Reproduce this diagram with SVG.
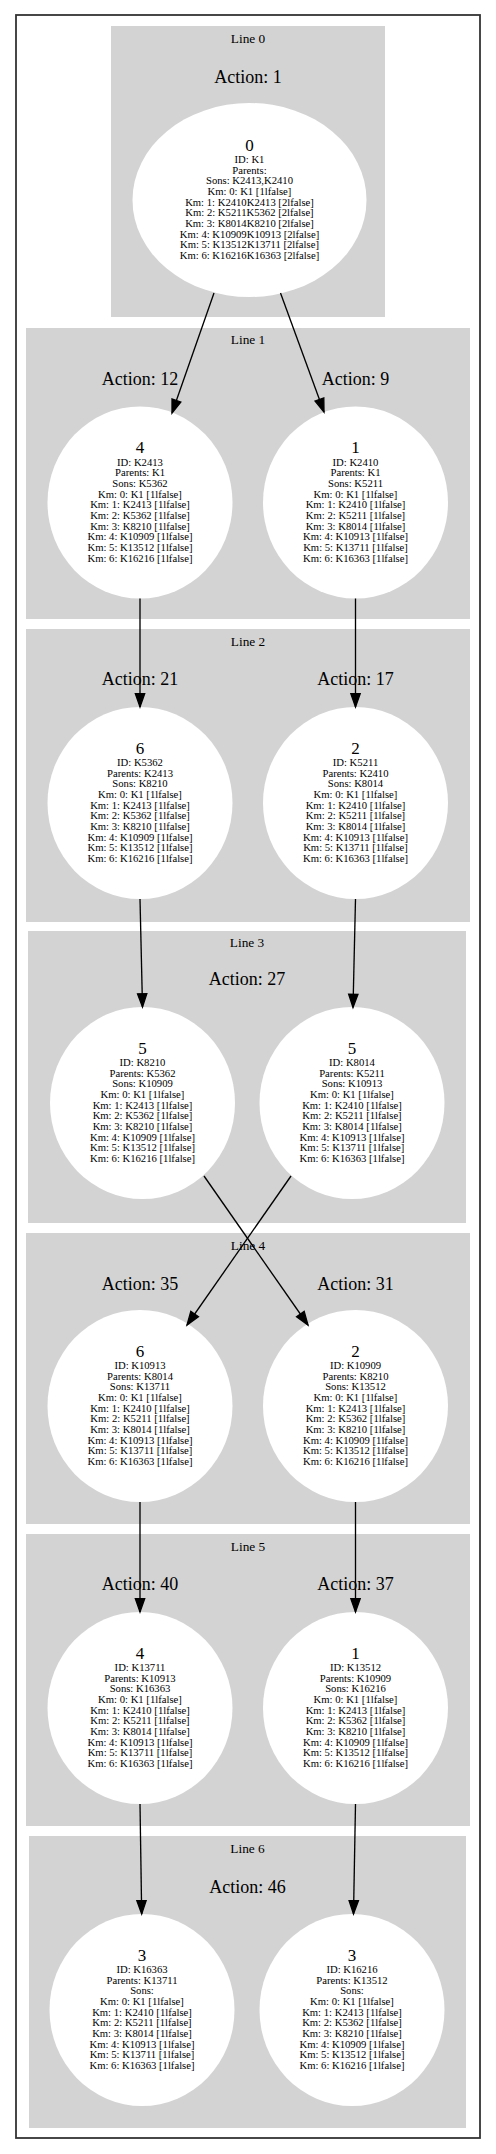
<svg xmlns="http://www.w3.org/2000/svg" width="496" height="2154" viewBox="0 0 496 2154">
<style>
.cl{fill:#d3d3d3}
.nd{fill:#fff}
.t{font-family:"Liberation Serif","Times New Roman",serif;text-anchor:middle;fill:#000}
.s{font-size:10.67px}
.n{font-size:17px}
.a{font-size:18px}
.l{font-size:13.33px}
.e{stroke:#000;stroke-width:1.33;fill:none;marker-end:url(#arr)}
</style>
<defs>
<marker id="arr" markerUnits="userSpaceOnUse" markerWidth="16" markerHeight="12" refX="13.33" refY="4.67" orient="auto" overflow="visible"><path d="M0,0 L13.33,4.67 L0,9.33 z" fill="#000" stroke="#000" stroke-width="1.33"/></marker>
</defs>
<rect x="0" y="0" width="496" height="2154" fill="#fff"/>
<rect x="16" y="15" width="464" height="2123" fill="#fff" stroke="#333" stroke-width="1.8"/>
<g id="clusters">
<rect class="cl" x="111" y="26" width="274" height="291"/>
<text class="t l" x="248" y="43">Line 0</text>
<text class="t a" x="248" y="83">Action: 1</text>
<rect class="cl" x="26" y="328" width="444" height="291"/>
<text class="t l" x="248" y="344">Line 1</text>
<text class="t a" x="140" y="385">Action: 12</text>
<text class="t a" x="355.5" y="385">Action: 9</text>
<rect class="cl" x="26" y="629" width="444" height="293"/>
<text class="t l" x="248" y="646">Line 2</text>
<text class="t a" x="140" y="685">Action: 21</text>
<text class="t a" x="355.5" y="685">Action: 17</text>
<rect class="cl" x="28" y="931" width="438" height="292"/>
<text class="t l" x="247" y="947">Line 3</text>
<text class="t a" x="247" y="985">Action: 27</text>
<rect class="cl" x="26" y="1233" width="444" height="291"/>
<text class="t l" x="248" y="1250">Line 4</text>
<text class="t a" x="140" y="1290">Action: 35</text>
<text class="t a" x="355.5" y="1290">Action: 31</text>
<rect class="cl" x="26" y="1534" width="444" height="292"/>
<text class="t l" x="248" y="1551">Line 5</text>
<text class="t a" x="140" y="1590">Action: 40</text>
<text class="t a" x="355.5" y="1590">Action: 37</text>
<rect class="cl" x="29" y="1836" width="437" height="292"/>
<text class="t l" x="247.5" y="1853">Line 6</text>
<text class="t a" x="247.5" y="1893">Action: 46</text>
</g>
<g id="n0">
<ellipse class="nd" cx="249.5" cy="200" rx="117" ry="97"/>
<text class="t" x="249.5" y="150.5"><tspan class="n">0</tspan><tspan class="s" x="249.5" dy="12.5">ID: K1</tspan><tspan class="s" x="249.5" dy="10.67">Parents:</tspan><tspan class="s" x="249.5" dy="10.67">Sons: K2413,K2410</tspan><tspan class="s" x="249.5" dy="10.67">Km: 0: K1 [1lfalse]</tspan><tspan class="s" x="249.5" dy="10.67">Km: 1: K2410K2413 [2lfalse]</tspan><tspan class="s" x="249.5" dy="10.67">Km: 2: K5211K5362 [2lfalse]</tspan><tspan class="s" x="249.5" dy="10.67">Km: 3: K8014K8210 [2lfalse]</tspan><tspan class="s" x="249.5" dy="10.67">Km: 4: K10909K10913 [2lfalse]</tspan><tspan class="s" x="249.5" dy="10.67">Km: 5: K13512K13711 [2lfalse]</tspan><tspan class="s" x="249.5" dy="10.67">Km: 6: K16216K16363 [2lfalse]</tspan></text>
</g>
<g id="n_K2413">
<ellipse class="nd" cx="140" cy="502.5" rx="92.5" ry="96"/>
<text class="t" x="140" y="453"><tspan class="n">4</tspan><tspan class="s" x="140" dy="12.5">ID: K2413</tspan><tspan class="s" x="140" dy="10.67">Parents: K1</tspan><tspan class="s" x="140" dy="10.67">Sons: K5362</tspan><tspan class="s" x="140" dy="10.67">Km: 0: K1 [1lfalse]</tspan><tspan class="s" x="140" dy="10.67">Km: 1: K2413 [1lfalse]</tspan><tspan class="s" x="140" dy="10.67">Km: 2: K5362 [1lfalse]</tspan><tspan class="s" x="140" dy="10.67">Km: 3: K8210 [1lfalse]</tspan><tspan class="s" x="140" dy="10.67">Km: 4: K10909 [1lfalse]</tspan><tspan class="s" x="140" dy="10.67">Km: 5: K13512 [1lfalse]</tspan><tspan class="s" x="140" dy="10.67">Km: 6: K16216 [1lfalse]</tspan></text>
</g>
<g id="n_K2410">
<ellipse class="nd" cx="355.5" cy="502.5" rx="92.5" ry="96"/>
<text class="t" x="355.5" y="453"><tspan class="n">1</tspan><tspan class="s" x="355.5" dy="12.5">ID: K2410</tspan><tspan class="s" x="355.5" dy="10.67">Parents: K1</tspan><tspan class="s" x="355.5" dy="10.67">Sons: K5211</tspan><tspan class="s" x="355.5" dy="10.67">Km: 0: K1 [1lfalse]</tspan><tspan class="s" x="355.5" dy="10.67">Km: 1: K2410 [1lfalse]</tspan><tspan class="s" x="355.5" dy="10.67">Km: 2: K5211 [1lfalse]</tspan><tspan class="s" x="355.5" dy="10.67">Km: 3: K8014 [1lfalse]</tspan><tspan class="s" x="355.5" dy="10.67">Km: 4: K10913 [1lfalse]</tspan><tspan class="s" x="355.5" dy="10.67">Km: 5: K13711 [1lfalse]</tspan><tspan class="s" x="355.5" dy="10.67">Km: 6: K16363 [1lfalse]</tspan></text>
</g>
<g id="n_K5362">
<ellipse class="nd" cx="140" cy="803" rx="92.5" ry="96"/>
<text class="t" x="140" y="753.5"><tspan class="n">6</tspan><tspan class="s" x="140" dy="12.5">ID: K5362</tspan><tspan class="s" x="140" dy="10.67">Parents: K2413</tspan><tspan class="s" x="140" dy="10.67">Sons: K8210</tspan><tspan class="s" x="140" dy="10.67">Km: 0: K1 [1lfalse]</tspan><tspan class="s" x="140" dy="10.67">Km: 1: K2413 [1lfalse]</tspan><tspan class="s" x="140" dy="10.67">Km: 2: K5362 [1lfalse]</tspan><tspan class="s" x="140" dy="10.67">Km: 3: K8210 [1lfalse]</tspan><tspan class="s" x="140" dy="10.67">Km: 4: K10909 [1lfalse]</tspan><tspan class="s" x="140" dy="10.67">Km: 5: K13512 [1lfalse]</tspan><tspan class="s" x="140" dy="10.67">Km: 6: K16216 [1lfalse]</tspan></text>
</g>
<g id="n_K5211">
<ellipse class="nd" cx="355.5" cy="803" rx="92.5" ry="96"/>
<text class="t" x="355.5" y="753.5"><tspan class="n">2</tspan><tspan class="s" x="355.5" dy="12.5">ID: K5211</tspan><tspan class="s" x="355.5" dy="10.67">Parents: K2410</tspan><tspan class="s" x="355.5" dy="10.67">Sons: K8014</tspan><tspan class="s" x="355.5" dy="10.67">Km: 0: K1 [1lfalse]</tspan><tspan class="s" x="355.5" dy="10.67">Km: 1: K2410 [1lfalse]</tspan><tspan class="s" x="355.5" dy="10.67">Km: 2: K5211 [1lfalse]</tspan><tspan class="s" x="355.5" dy="10.67">Km: 3: K8014 [1lfalse]</tspan><tspan class="s" x="355.5" dy="10.67">Km: 4: K10913 [1lfalse]</tspan><tspan class="s" x="355.5" dy="10.67">Km: 5: K13711 [1lfalse]</tspan><tspan class="s" x="355.5" dy="10.67">Km: 6: K16363 [1lfalse]</tspan></text>
</g>
<g id="n_K8210">
<ellipse class="nd" cx="142.5" cy="1103" rx="92.5" ry="96"/>
<text class="t" x="142.5" y="1053.5"><tspan class="n">5</tspan><tspan class="s" x="142.5" dy="12.5">ID: K8210</tspan><tspan class="s" x="142.5" dy="10.67">Parents: K5362</tspan><tspan class="s" x="142.5" dy="10.67">Sons: K10909</tspan><tspan class="s" x="142.5" dy="10.67">Km: 0: K1 [1lfalse]</tspan><tspan class="s" x="142.5" dy="10.67">Km: 1: K2413 [1lfalse]</tspan><tspan class="s" x="142.5" dy="10.67">Km: 2: K5362 [1lfalse]</tspan><tspan class="s" x="142.5" dy="10.67">Km: 3: K8210 [1lfalse]</tspan><tspan class="s" x="142.5" dy="10.67">Km: 4: K10909 [1lfalse]</tspan><tspan class="s" x="142.5" dy="10.67">Km: 5: K13512 [1lfalse]</tspan><tspan class="s" x="142.5" dy="10.67">Km: 6: K16216 [1lfalse]</tspan></text>
</g>
<g id="n_K8014">
<ellipse class="nd" cx="352" cy="1103" rx="92.5" ry="96"/>
<text class="t" x="352" y="1053.5"><tspan class="n">5</tspan><tspan class="s" x="352" dy="12.5">ID: K8014</tspan><tspan class="s" x="352" dy="10.67">Parents: K5211</tspan><tspan class="s" x="352" dy="10.67">Sons: K10913</tspan><tspan class="s" x="352" dy="10.67">Km: 0: K1 [1lfalse]</tspan><tspan class="s" x="352" dy="10.67">Km: 1: K2410 [1lfalse]</tspan><tspan class="s" x="352" dy="10.67">Km: 2: K5211 [1lfalse]</tspan><tspan class="s" x="352" dy="10.67">Km: 3: K8014 [1lfalse]</tspan><tspan class="s" x="352" dy="10.67">Km: 4: K10913 [1lfalse]</tspan><tspan class="s" x="352" dy="10.67">Km: 5: K13711 [1lfalse]</tspan><tspan class="s" x="352" dy="10.67">Km: 6: K16363 [1lfalse]</tspan></text>
</g>
<g id="n_K10913">
<ellipse class="nd" cx="140" cy="1406" rx="92.5" ry="96"/>
<text class="t" x="140" y="1356.5"><tspan class="n">6</tspan><tspan class="s" x="140" dy="12.5">ID: K10913</tspan><tspan class="s" x="140" dy="10.67">Parents: K8014</tspan><tspan class="s" x="140" dy="10.67">Sons: K13711</tspan><tspan class="s" x="140" dy="10.67">Km: 0: K1 [1lfalse]</tspan><tspan class="s" x="140" dy="10.67">Km: 1: K2410 [1lfalse]</tspan><tspan class="s" x="140" dy="10.67">Km: 2: K5211 [1lfalse]</tspan><tspan class="s" x="140" dy="10.67">Km: 3: K8014 [1lfalse]</tspan><tspan class="s" x="140" dy="10.67">Km: 4: K10913 [1lfalse]</tspan><tspan class="s" x="140" dy="10.67">Km: 5: K13711 [1lfalse]</tspan><tspan class="s" x="140" dy="10.67">Km: 6: K16363 [1lfalse]</tspan></text>
</g>
<g id="n_K10909">
<ellipse class="nd" cx="355.5" cy="1406" rx="92.5" ry="96"/>
<text class="t" x="355.5" y="1356.5"><tspan class="n">2</tspan><tspan class="s" x="355.5" dy="12.5">ID: K10909</tspan><tspan class="s" x="355.5" dy="10.67">Parents: K8210</tspan><tspan class="s" x="355.5" dy="10.67">Sons: K13512</tspan><tspan class="s" x="355.5" dy="10.67">Km: 0: K1 [1lfalse]</tspan><tspan class="s" x="355.5" dy="10.67">Km: 1: K2413 [1lfalse]</tspan><tspan class="s" x="355.5" dy="10.67">Km: 2: K5362 [1lfalse]</tspan><tspan class="s" x="355.5" dy="10.67">Km: 3: K8210 [1lfalse]</tspan><tspan class="s" x="355.5" dy="10.67">Km: 4: K10909 [1lfalse]</tspan><tspan class="s" x="355.5" dy="10.67">Km: 5: K13512 [1lfalse]</tspan><tspan class="s" x="355.5" dy="10.67">Km: 6: K16216 [1lfalse]</tspan></text>
</g>
<g id="n_K13711">
<ellipse class="nd" cx="140" cy="1708" rx="92.5" ry="96"/>
<text class="t" x="140" y="1658.5"><tspan class="n">4</tspan><tspan class="s" x="140" dy="12.5">ID: K13711</tspan><tspan class="s" x="140" dy="10.67">Parents: K10913</tspan><tspan class="s" x="140" dy="10.67">Sons: K16363</tspan><tspan class="s" x="140" dy="10.67">Km: 0: K1 [1lfalse]</tspan><tspan class="s" x="140" dy="10.67">Km: 1: K2410 [1lfalse]</tspan><tspan class="s" x="140" dy="10.67">Km: 2: K5211 [1lfalse]</tspan><tspan class="s" x="140" dy="10.67">Km: 3: K8014 [1lfalse]</tspan><tspan class="s" x="140" dy="10.67">Km: 4: K10913 [1lfalse]</tspan><tspan class="s" x="140" dy="10.67">Km: 5: K13711 [1lfalse]</tspan><tspan class="s" x="140" dy="10.67">Km: 6: K16363 [1lfalse]</tspan></text>
</g>
<g id="n_K13512">
<ellipse class="nd" cx="355.5" cy="1708" rx="92.5" ry="96"/>
<text class="t" x="355.5" y="1658.5"><tspan class="n">1</tspan><tspan class="s" x="355.5" dy="12.5">ID: K13512</tspan><tspan class="s" x="355.5" dy="10.67">Parents: K10909</tspan><tspan class="s" x="355.5" dy="10.67">Sons: K16216</tspan><tspan class="s" x="355.5" dy="10.67">Km: 0: K1 [1lfalse]</tspan><tspan class="s" x="355.5" dy="10.67">Km: 1: K2413 [1lfalse]</tspan><tspan class="s" x="355.5" dy="10.67">Km: 2: K5362 [1lfalse]</tspan><tspan class="s" x="355.5" dy="10.67">Km: 3: K8210 [1lfalse]</tspan><tspan class="s" x="355.5" dy="10.67">Km: 4: K10909 [1lfalse]</tspan><tspan class="s" x="355.5" dy="10.67">Km: 5: K13512 [1lfalse]</tspan><tspan class="s" x="355.5" dy="10.67">Km: 6: K16216 [1lfalse]</tspan></text>
</g>
<g id="n_K16363">
<ellipse class="nd" cx="142" cy="2010" rx="92.5" ry="96"/>
<text class="t" x="142" y="1960.5"><tspan class="n">3</tspan><tspan class="s" x="142" dy="12.5">ID: K16363</tspan><tspan class="s" x="142" dy="10.67">Parents: K13711</tspan><tspan class="s" x="142" dy="10.67">Sons:</tspan><tspan class="s" x="142" dy="10.67">Km: 0: K1 [1lfalse]</tspan><tspan class="s" x="142" dy="10.67">Km: 1: K2410 [1lfalse]</tspan><tspan class="s" x="142" dy="10.67">Km: 2: K5211 [1lfalse]</tspan><tspan class="s" x="142" dy="10.67">Km: 3: K8014 [1lfalse]</tspan><tspan class="s" x="142" dy="10.67">Km: 4: K10913 [1lfalse]</tspan><tspan class="s" x="142" dy="10.67">Km: 5: K13711 [1lfalse]</tspan><tspan class="s" x="142" dy="10.67">Km: 6: K16363 [1lfalse]</tspan></text>
</g>
<g id="n_K16216">
<ellipse class="nd" cx="352" cy="2010" rx="92.5" ry="96"/>
<text class="t" x="352" y="1960.5"><tspan class="n">3</tspan><tspan class="s" x="352" dy="12.5">ID: K16216</tspan><tspan class="s" x="352" dy="10.67">Parents: K13512</tspan><tspan class="s" x="352" dy="10.67">Sons:</tspan><tspan class="s" x="352" dy="10.67">Km: 0: K1 [1lfalse]</tspan><tspan class="s" x="352" dy="10.67">Km: 1: K2413 [1lfalse]</tspan><tspan class="s" x="352" dy="10.67">Km: 2: K5362 [1lfalse]</tspan><tspan class="s" x="352" dy="10.67">Km: 3: K8210 [1lfalse]</tspan><tspan class="s" x="352" dy="10.67">Km: 4: K10909 [1lfalse]</tspan><tspan class="s" x="352" dy="10.67">Km: 5: K13512 [1lfalse]</tspan><tspan class="s" x="352" dy="10.67">Km: 6: K16216 [1lfalse]</tspan></text>
</g>
<g id="edges">
<path class="e" d="M214,293 L172,413"/>
<path class="e" d="M280.5,293 L324,412"/>
<path class="e" d="M140,598.5 L140,707"/>
<path class="e" d="M355.5,598.5 L355.5,707"/>
<path class="e" d="M140,899 L142.5,1007"/>
<path class="e" d="M355.5,899 L353,1007.5"/>
<path class="e" d="M204,1176 L308,1325"/>
<path class="e" d="M291,1176 L187,1325"/>
<path class="e" d="M140,1502 L140,1612"/>
<path class="e" d="M355.5,1502 L355.5,1612"/>
<path class="e" d="M140,1804 L141.7,1914"/>
<path class="e" d="M355.5,1804 L353.5,1914"/>
</g>
</svg>
